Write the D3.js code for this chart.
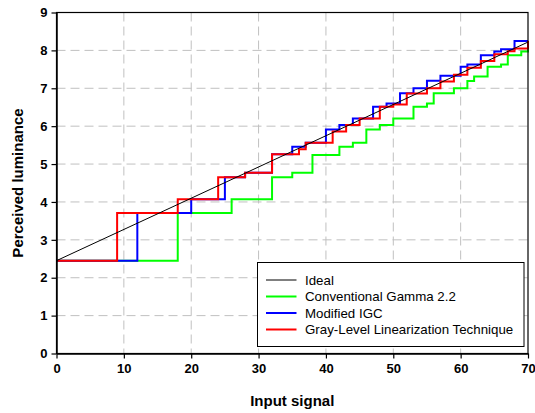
<!DOCTYPE html>
<html>
<head>
<meta charset="utf-8">
<script src="https://cdn.jsdelivr.net/npm/d3@7"></script>
<style>
  body { margin: 0; background: #fff; }
  svg { font-family: "Liberation Sans", Arial, sans-serif; }
</style>
</head>
<body>
<div id="chart"></div>
<script>
// Series values: [input signal, perceived luminance], step-after
const seriesNames = ['Ideal', 'Conventional Gamma 2.2', 'Modified IGC', 'Gray-Level Linearization Technique'];
const seriesColors = ['#000000', '#00ff00', '#0000ff', '#ff0000'];

const idealValues = [[0, 2.45], [70, 8.22]];

const gammaValues = [
  [0, 2.45], [18, 3.71], [26, 4.07], [32, 4.65], [35, 4.77], [38, 5.24], [42, 5.46],
  [44, 5.56], [46, 5.91], [48, 6.03], [50, 6.2], [53, 6.51], [55, 6.6], [56, 6.87],
  [59, 7.0], [61, 7.19], [62, 7.31], [64, 7.57], [66, 7.63], [67, 7.87], [69, 7.97],
  [70, 8.03]
];

const igcValues = [
  [0, 2.45], [12, 3.71], [20, 4.07], [25, 4.65], [28, 4.77], [32, 5.26], [35, 5.46],
  [37, 5.56], [40, 5.91], [42, 6.03], [44, 6.2], [47, 6.51], [49, 6.6], [51, 6.87],
  [53, 7.0], [55, 7.2], [57, 7.33], [60, 7.57], [61, 7.63], [63, 7.87], [65, 7.97],
  [66, 8.03], [68, 8.25], [70, 8.25]
];

const glltValues = [
  [0, 2.45], [9, 3.71], [18, 4.07], [24, 4.65], [28, 4.77], [32, 5.26], [36, 5.39],
  [37, 5.56], [41, 5.86], [43, 6.03], [45, 6.2], [48, 6.51], [50, 6.57], [52, 6.86],
  [55, 7.0], [57, 7.18], [59, 7.36], [61, 7.54], [63, 7.72], [65, 7.9], [67, 7.98],
  [68, 8.05], [70, 8.25]
];

const xTicks = [0, 10, 20, 30, 40, 50, 60, 70];
const yTicks = [0, 1, 2, 3, 4, 5, 6, 7, 8, 9];

class StepChart {

  constructor(_config, _series) {
    this.config = {
      parentElement: _config.parentElement,
      containerWidth: _config.containerWidth || 535,
      containerHeight: _config.containerHeight || 413,
      margin: _config.margin || {top: 12.5, right: 7, bottom: 59.5, left: 56.5},
    }
    this.series = _series;
    this.initVis();
  }

  initVis() {
    let vis = this;

    vis.width = vis.config.containerWidth - vis.config.margin.left - vis.config.margin.right;
    vis.height = vis.config.containerHeight - vis.config.margin.top - vis.config.margin.bottom;

    vis.xScale = d3.scaleLinear().domain([0, 70]).range([0, vis.width]);
    vis.yScale = d3.scaleLinear().domain([0, 9]).range([vis.height, 0]);

    vis.xAxis = d3.axisBottom(vis.xScale).tickValues(xTicks).tickSizeInner(5).tickSizeOuter(0).tickPadding(5);
    vis.yAxis = d3.axisLeft(vis.yScale).tickValues(yTicks).tickSizeInner(5).tickSizeOuter(0).tickPadding(4);

    vis.svg = d3.select(vis.config.parentElement).append('svg')
      .attr('width', vis.config.containerWidth)
      .attr('height', vis.config.containerHeight);

    vis.visG = vis.svg.append('g')
      .attr('transform', `translate(${vis.config.margin.left},${vis.config.margin.top})`);

    // dashed grid
    vis.gridG = vis.visG.append('g');

    vis.linesG = vis.visG.append('g');

    // frame
    vis.visG.append('rect')
      .attr('width', vis.width)
      .attr('height', vis.height)
      .attr('fill', 'none')
      .attr('stroke', '#000')
      .attr('stroke-width', 1.2);

    vis.xAxisG = vis.visG.append('g')
      .attr('transform', `translate(0,${vis.height})`);
    vis.yAxisG = vis.visG.append('g');

    // axis titles
    vis.svg.append('text')
      .attr('x', vis.config.margin.left + vis.width / 2)
      .attr('y', 406)
      .attr('text-anchor', 'middle')
      .attr('font-size', 15)
      .attr('font-weight', 'bold')
      .text('Input signal');

    vis.svg.append('text')
      .attr('transform', `translate(23,${vis.config.margin.top + vis.height / 2}) rotate(-90)`)
      .attr('text-anchor', 'middle')
      .attr('font-size', 15)
      .attr('font-weight', 'bold')
      .text('Perceived luminance');

    vis.legendG = vis.svg.append('g')
      .attr('transform', 'translate(257.5,262.5)');
  }

  renderVis() {
    let vis = this;

    vis.gridG.selectAll('.hgrid')
      .data(yTicks.filter(d => d > 0 && d < 9))
      .join('line')
      .attr('class', 'hgrid')
      .attr('x1', 0).attr('x2', vis.width)
      .attr('y1', d => vis.yScale(d)).attr('y2', d => vis.yScale(d))
      .attr('stroke', '#c0c0c0')
      .attr('stroke-dasharray', '9,5');

    vis.gridG.selectAll('.vgrid')
      .data(xTicks.filter(d => d > 0 && d < 70))
      .join('line')
      .attr('class', 'vgrid')
      .attr('y1', 0).attr('y2', vis.height)
      .attr('x1', d => vis.xScale(d)).attr('x2', d => vis.xScale(d))
      .attr('stroke', '#c0c0c0')
      .attr('stroke-dasharray', '9,5');

    const line = d3.line()
      .x(d => vis.xScale(d[0]))
      .y(d => vis.yScale(d[1]));

    // ideal on top, drawn last
    const order = [1, 2, 3, 0];
    vis.linesG.selectAll('path')
      .data(order.map(i => vis.series[i]))
      .join('path')
      .attr('fill', 'none')
      .attr('stroke', d => d.color)
      .attr('stroke-width', d => d.name === 'Ideal' ? 1 : 2)
      .attr('d', d => line.curve(d.name === 'Ideal' ? d3.curveLinear : d3.curveStepAfter)(d.values));

    vis.xAxisG.call(vis.xAxis);
    vis.yAxisG.call(vis.yAxis);
    [vis.xAxisG, vis.yAxisG].forEach(g => {
      g.select('.domain').attr('stroke', '#000').attr('stroke-width', 1.5);
      g.selectAll('.tick line').attr('stroke', '#000').attr('stroke-width', 1.2);
      g.selectAll('.tick text')
        .attr('font-size', 13)
        .attr('font-weight', 'bold')
        .attr('fill', '#000')
        .attr('font-family', '"Liberation Sans", Arial, sans-serif');
    });

    // legend
    vis.legendG.append('rect')
      .attr('width', 266.5)
      .attr('height', 84)
      .attr('fill', '#fff')
      .attr('stroke', '#000')
      .attr('stroke-width', 1);

    const rows = vis.legendG.selectAll('.entry')
      .data(vis.series)
      .join('g')
      .attr('class', 'entry')
      .attr('transform', (d, i) => `translate(0,${17.5 + i * 16.5})`);

    rows.append('line')
      .attr('x1', 8.5).attr('x2', 39)
      .attr('stroke', d => d.color)
      .attr('stroke-width', d => d.name === 'Ideal' ? 1 : 2);

    rows.append('text')
      .attr('x', 47.5)
      .attr('dy', '0.36em')
      .attr('font-size', 13.3)
      .text(d => d.name);
  }
}

const series = [idealValues, gammaValues, igcValues, glltValues].map((values, i) => ({
  name: seriesNames[i],
  color: seriesColors[i],
  values: values
}));

const chart = new StepChart({parentElement: '#chart'}, series);
chart.renderVis();
</script>
</body>
</html>
